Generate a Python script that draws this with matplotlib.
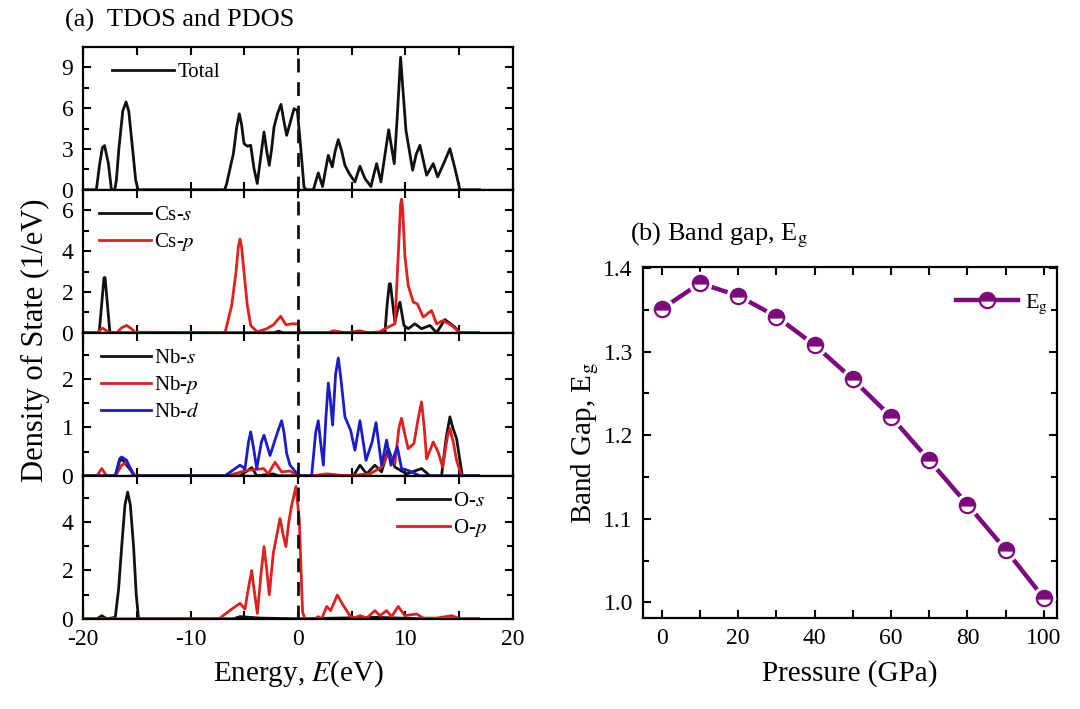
import numpy as np
import matplotlib
matplotlib.use("Agg")
import matplotlib.pyplot as plt
from matplotlib.ticker import MultipleLocator
from matplotlib.lines import Line2D

plt.rcParams['font.family'] = ['Liberation Serif', 'DejaVu Serif']
plt.rcParams['mathtext.fontset'] = 'stix'

# ---------------- data ----------------
# (energy eV, DOS 1/eV) pairs
total_dos = [(-19.8, 0), (-18.76, 0), (-18.45, 1.93), (-18.2, 3.1), (-18.0, 3.25), (-17.64, 1.93), (-17.36, 0),
             (-17.05, 0), (-16.9, 0.7), (-16.65, 3.15), (-16.3, 5.8), (-16.0, 6.45), (-15.75, 5.8),
             (-15.41, 3.15), (-15.1, 0.7), (-14.88, 0), (-6.82, 0), (-6.63, 0.46), (-6.2, 2.0), (-6.02, 2.6),
             (-5.7, 4.6), (-5.46, 5.58), (-5.25, 4.8), (-5.02, 3.39), (-4.7, 3.2), (-4.4, 3.27), (-4.1, 1.6),
             (-3.79, 0.46), (-3.5, 2.2), (-3.16, 4.24), (-2.9, 2.8), (-2.67, 1.8), (-2.45, 3.0), (-2.23, 4.6),
             (-1.9, 5.6), (-1.58, 6.27), (-1.3, 5.0), (-1.05, 4.0), (-0.7, 5.0), (-0.37, 5.95), (-0.06, 5.83),
             (0.25, 3.15), (0.56, 0.2), (0.75, 0), (1.43, 0), (1.65, 0.6), (1.89, 1.24), (2.1, 0.7), (2.29, 0.24),
             (2.55, 1.4), (2.82, 2.53), (3.19, 1.68), (3.45, 2.8), (3.75, 3.68), (4.05, 2.9), (4.37, 1.8),
             (4.77, 1.19), (5.3, 0.58), (5.55, 1.2), (5.77, 1.73), (6.23, 0.83), (6.79, 0.24), (7.05, 1.1),
             (7.32, 1.92), (7.72, 0.58), (8.1, 2.6), (8.44, 4.41), (8.96, 1.92), (9.25, 5.5), (9.55, 9.73),
             (9.8, 7.0), (10.05, 4.36), (10.67, 1.44), (11.0, 2.6), (11.35, 3.27), (11.97, 1.07), (12.59, 1.92),
             (13.0, 0.95), (13.6, 2.0), (14.14, 3.02), (14.6, 1.6), (15.07, 0), (16.9, 0)]

cs_s = [(-19.8, 0), (-18.5, 0), (-18.25, 1.5), (-18.05, 2.7), (-17.95, 2.7), (-17.75, 1.5), (-17.5, 0),
        (-2.2, 0), (-1.8, 0.08), (-1.4, 0), (8.09, 0), (8.3, 1.4), (8.5, 2.4), (8.6, 2.4), (9.02, 0.52),
        (9.3, 1.2), (9.49, 1.5), (9.86, 0.36), (10.26, 0.2), (10.88, 0.44), (11.5, 0.2), (12.28, 0.36),
        (12.9, 0), (13.67, 0.65), (14.6, 0.28), (15.07, 0), (16.8, 0)]
cs_p = [(-19.8, 0), (-18.7, 0), (-18.2, 0.23), (-17.5, 0), (-16.87, 0), (-16.4, 0.25), (-15.94, 0.36),
        (-15.5, 0.2), (-15.16, 0.03), (-6.79, 0), (-6.17, 1.33), (-5.77, 2.96), (-5.55, 4.2), (-5.4, 4.59),
        (-5.25, 4.2), (-5.02, 2.96), (-4.71, 1.33), (-4.4, 0.36), (-3.8, 0.05), (-2.9, 0.2), (-2.29, 0.39),
        (-1.61, 0.81), (-1.12, 0.39), (-0.59, 0.44), (0.0, 0.44), (0.16, 0), (2.8, 0), (3.3, 0.1), (4.5, 0),
        (5.77, 0.1), (6.5, 0), (7.63, 0.05), (8.09, 0.2), (9.02, 0.44), (9.33, 3.77), (9.55, 6.3),
        (9.64, 6.54), (9.75, 6.0), (9.95, 3.77), (10.26, 2.31), (10.73, 1.5), (11.1, 1.42), (11.66, 0.77),
        (12.43, 1.09), (12.9, 0.44), (13.5, 0.6), (14.3, 0.36), (15.07, 0), (16.8, 0)]

nb_s = [(-19.8, 0), (-17.0, 0), (-16.6, 0.3), (-16.4, 0.35), (-15.94, 0.22), (-15.16, 0), (-5.4, 0),
        (-4.3, 0.17), (-3.84, 0), (-2.3, 0.04), (-1.8, 0), (5.15, 0), (5.77, 0.22), (6.39, 0.04), (7.16, 0.22),
        (7.78, 0.08), (8.4, 0.56), (9.02, 0.18), (10.1, 0.04), (11.5, 0.15), (12.28, 0), (13.36, 0),
        (13.8, 0.8), (14.14, 1.22), (14.4, 1.0), (14.76, 0.77), (15.29, 0), (16.8, 0)]
nb_p = [(-19.8, 0), (-18.7, 0), (-18.26, 0.15), (-17.8, 0), (-17.0, 0), (-16.4, 0.22), (-15.94, 0.28),
        (-15.16, 0), (-6.6, 0), (-4.8, 0.11), (-3.2, 0.15), (-2.76, 0.04), (-2.14, 0.28), (-1.52, 0.08),
        (-0.74, 0.1), (0.0, 0), (1.3, 0), (2.67, 0.04), (4.5, 0), (6.7, 0.04), (7.78, 0.18), (8.4, 0.46),
        (9.02, 0.25), (9.4, 1.0), (9.64, 1.19), (9.9, 0.9), (10.26, 0.56), (10.79, 0.67), (11.2, 1.2),
        (11.5, 1.53), (11.75, 1.0), (11.97, 0.35), (12.59, 0.7), (13.05, 0.49), (13.46, 0.18), (13.9, 0.8),
        (14.14, 0.98), (14.45, 0.7), (14.76, 0.32), (15.22, 0), (16.8, 0)]
nb_d = [(-19.8, 0), (-17.0, 0), (-16.6, 0.35), (-16.4, 0.39), (-15.94, 0.32), (-15.3, 0), (-6.8, 0),
        (-5.4, 0.22), (-4.93, 0.15), (-4.6, 0.7), (-4.4, 0.91), (-4.15, 0.6), (-3.84, 0.15), (-3.4, 0.7),
        (-3.16, 0.84), (-2.6, 0.42), (-2.14, 0.74), (-1.75, 1.0), (-1.52, 1.14), (-1.3, 0.9), (-1.05, 0.46),
        (-0.74, 0.22), (-0.06, 0.04), (0.19, 0), (1.27, 0), (1.65, 0.9), (1.89, 1.14), (2.1, 0.7),
        (2.36, 0.22), (2.6, 1.2), (2.82, 1.92), (3.0, 1.6), (3.22, 1.05), (3.5, 2.1), (3.75, 2.44),
        (4.0, 2.0), (4.37, 1.22), (4.9, 0.94), (5.3, 0.53), (5.77, 1.14), (6.33, 0.32), (6.9, 0.7),
        (7.26, 1.1), (7.78, 0.22), (8.25, 0.74), (8.65, 0.22), (9.24, 0.6), (9.64, 0.15), (10.26, 0.11),
        (11.35, 0), (16.8, 0)]

o_s = [(-19.8, 0), (-18.7, 0), (-18.26, 0.13), (-17.8, 0), (-17.0, 0.06), (-16.7, 1.2), (-16.4, 3.0),
       (-16.1, 4.7), (-15.85, 5.23), (-15.6, 4.7), (-15.3, 3.0), (-15.05, 1.0), (-14.85, 0.06), (-14.7, 0),
       (-6.0, 0), (-5.4, 0.09), (-3.5, 0.03), (0, 0), (7.3, 0.06), (11.6, 0), (16.8, 0)]
o_p = [(-19.8, 0), (-7.5, 0), (-7.26, 0.03), (-6.33, 0.35), (-5.4, 0.64), (-4.93, 0.4), (-4.6, 1.3),
       (-4.31, 1.99), (-4.05, 1.1), (-3.78, 0.22), (-3.45, 1.8), (-3.16, 2.98), (-2.9, 2.0), (-2.67, 0.99),
       (-2.3, 2.7), (-1.67, 4.14), (-1.35, 3.4), (-1.12, 2.98), (-0.85, 4.0), (-0.59, 4.68), (-0.19, 5.46),
       (0.12, 4.1), (0.43, 0.27), (0.65, 0), (1.58, 0), (1.89, 0.09), (2.2, 0), (2.67, 0.51), (3.04, 0.34),
       (3.66, 0.98), (4.22, 0.55), (4.84, 0.13), (5.2, 0.03), (5.77, 0.13), (6.4, 0.03), (7.16, 0.34),
       (7.63, 0.13), (8.25, 0.34), (8.71, 0.09), (9.33, 0.51), (9.95, 0.13), (11.04, 0.2), (11.66, 0.03),
       (12.9, 0.03), (14.3, 0.13), (15.07, 0), (16.8, 0)]

pressure = [0, 10, 20, 30, 40, 50, 60, 70, 80, 90, 100]
band_gap = [1.351, 1.382, 1.367, 1.342, 1.308, 1.267, 1.222, 1.170, 1.117, 1.063, 1.005]

# ---------------- styling ----------------
BLACK = '#111111'
RED = '#e0201e'
BLUE = '#1c1cc8'
PURPLE = '#7d0a7d'

fig = plt.figure(figsize=(10.8, 7.09), dpi=100)

left, width = 0.0769, 0.398
top, ph = 0.934, 0.2017

panels = [
    dict(curves=[(total_dos, BLACK, 'Total')], ylim=(0, 10.5), major=3, minor=1.5,
         leg=dict(loc='upper left', bbox_to_anchor=(0.03, 1.0), handlelength=3.0)),
    dict(curves=[(cs_s, BLACK, 'Cs-$s$'), (cs_p, RED, 'Cs-$p$')], ylim=(0, 7.0), major=2, minor=1,
         leg=dict(loc='upper left', bbox_to_anchor=(0.0, 1.0), handlelength=2.5)),
    dict(curves=[(nb_s, BLACK, 'Nb-$s$'), (nb_p, RED, 'Nb-$p$'), (nb_d, BLUE, 'Nb-$d$')], ylim=(0, 2.96),
         major=1, minor=0.5,
         leg=dict(loc='upper left', bbox_to_anchor=(0.005, 1.0), handlelength=2.4)),
    dict(curves=[(o_s, BLACK, 'O-$s$'), (o_p, RED, 'O-$p$')], ylim=(0, 5.9), major=2, minor=1,
         leg=dict(loc='upper right', bbox_to_anchor=(0.975, 1.0), handlelength=2.5)),
]

axes = []
for i, p in enumerate(panels):
    ax = fig.add_axes([left, top - (i + 1) * ph, width, ph])
    axes.append(ax)
    for data, col, lab in p['curves']:
        e, d = np.array(data).T
        ax.plot(e, d, color=col, lw=2.0, label=lab, solid_joinstyle='round')
    ax.axvline(0, color=BLACK, lw=2.0, ls=(0, (5, 3.5)), zorder=5)
    ax.set_xlim(-20, 20)
    ax.set_ylim(*p['ylim'])
    ax.xaxis.set_major_locator(MultipleLocator(10))
    ax.xaxis.set_minor_locator(MultipleLocator(5))
    ax.yaxis.set_major_locator(MultipleLocator(p['major']))
    ax.yaxis.set_minor_locator(MultipleLocator(p['minor']))
    ax.tick_params(which='both', direction='in', top=True, right=True, width=1.5, labelsize=17)
    ax.tick_params(which='major', length=6, pad=7)
    ax.tick_params(which='minor', length=4)
    ax.tick_params(axis='x', which='minor', length=6)
    for s in ax.spines.values():
        s.set_linewidth(1.6)
    if i < 3:
        ax.tick_params(axis='x', labelbottom=False)
    ax.legend(frameon=False, fontsize=15, labelspacing=0.3, handletextpad=0.15,
              borderaxespad=0.35, **p['leg'])

axes[-1].set_xlabel('Energy, $E$(eV)', fontsize=21, labelpad=6)
axes[-1].set_xticks([-20, -10, 0, 10, 20])
axes[-1].set_xticklabels(['-20', '-10', '0', '10', '20'])

fig.text(35 / 1080, 1 - 340 / 709, 'Density of State (1/eV)', rotation=90, fontsize=22,
         ha='center', va='center')
fig.text(65 / 1080, 1 - 20 / 709, '(a)  TDOS and PDOS', fontsize=19, ha='left', va='center')

# ---------------- right panel ----------------
axb = fig.add_axes([0.595, 0.128, 0.384, 0.495])
axb.plot(pressure, band_gap, '-', color=PURPLE, lw=3.2, zorder=2)
axb.plot(pressure, band_gap, 'o', color='white', ms=16, mec='white', zorder=3)
axb.plot(pressure, band_gap, 'o', ms=11, fillstyle='top', mfc=PURPLE, mfcalt='white',
         mec=PURPLE, mew=1.6, ls='none', zorder=4)
axb.set_xlim(-5, 103.5)
axb.set_ylim(0.981, 1.401)
axb.xaxis.set_major_locator(MultipleLocator(20))
axb.xaxis.set_minor_locator(MultipleLocator(10))
axb.yaxis.set_major_locator(MultipleLocator(0.1))
axb.yaxis.set_minor_locator(MultipleLocator(0.05))
axb.tick_params(which='both', direction='in', top=True, right=True, width=1.5, labelsize=17)
axb.tick_params(which='major', length=6, pad=7)
axb.tick_params(which='minor', length=4)
axb.tick_params(axis='x', which='minor', length=6)
for s in axb.spines.values():
    s.set_linewidth(1.6)
axb.set_xlabel('Pressure (GPa)', fontsize=21, labelpad=8)
axb.set_ylabel('Band Gap, E$_\\mathrm{g}$', fontsize=21, labelpad=2)
handle = Line2D([], [], color=PURPLE, lw=3.2, marker='o', ms=11, fillstyle='top', mfc=PURPLE,
                mfcalt='white', mec=PURPLE, mew=1.6)
axb.legend([handle], ['E$_\\mathrm{g}$'], loc='upper right', frameon=False, fontsize=16,
           handlelength=2.8, handletextpad=0.3, bbox_to_anchor=(1.025, 0.985))
fig.text(630 / 1080, 1 - 235 / 709, '(b) Band gap, E$_\\mathrm{g}$', fontsize=19, ha='left', va='center')

fig.savefig('out.png', dpi=100, facecolor='white')
